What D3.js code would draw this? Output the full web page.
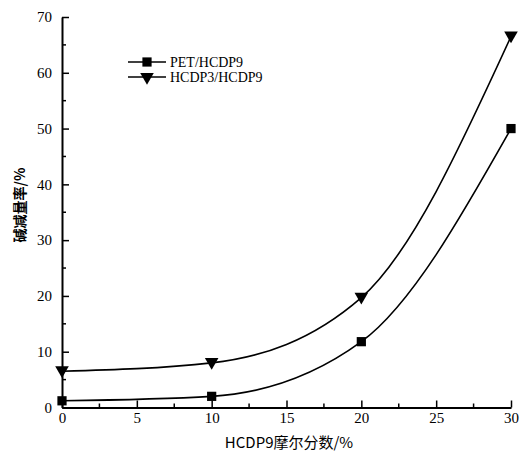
<!DOCTYPE html>
<html><head><meta charset="utf-8">
<script src="https://cdn.jsdelivr.net/npm/d3@7"></script>
<style>body{margin:0;background:#fff}svg{display:block}</style>
</head><body>
<script>
const xValues = [0, 10, 20, 30];
const petValues = [1.2, 2.0, 11.8, 50.0];
const hcdp3Values = [6.5, 8.0, 19.7, 66.5];
const seriesNames = ["PET/HCDP9", "HCDP3/HCDP9"];
const xTicks = [0, 5, 10, 15, 20, 25, 30];
const yTicks = [0, 10, 20, 30, 40, 50, 60, 70];
const xLabel = "HCDP9摩尔分数/%";
const yLabel = "碱减量率/%";

const W = 528, H = 456;
const svg = d3.select("body").append("svg").attr("width", W).attr("height", H);
const x = d3.scaleLinear().domain([0, 30]).range([62, 511]);
const y = d3.scaleLinear().domain([0, 70]).range([407.5, 17]);
const serif = "'Liberation Serif', 'DejaVu Serif', serif";
const cjk = "'Noto Sans CJK SC', sans-serif";

// axes
const xAxis = d3.axisBottom(x).tickValues(xTicks).tickSize(-7).tickPadding(5).tickSizeOuter(0);
const gx = svg.append("g").attr("transform", `translate(0,${y(0)})`).call(xAxis);
const yAxis = d3.axisLeft(y).tickValues(yTicks).tickSize(-7).tickPadding(10).tickSizeOuter(0);
const gy = svg.append("g").attr("transform", `translate(${x(0)},0)`).call(yAxis);
[gx, gy].forEach(g => {
  g.attr("font-family", serif).attr("font-size", 15);
  g.select(".domain").attr("stroke", "#000").attr("stroke-width", 2);
  g.selectAll(".tick line").attr("stroke", "#000").attr("stroke-width", 1.5);
  g.selectAll(".tick text").style("font-family", serif).style("font-size", "15px").attr("fill", "#000");
});
// minor ticks
const xMinor = d3.range(2.5, 30, 5);
svg.append("g").selectAll("line").data(xMinor).join("line")
  .attr("x1", d => x(d)).attr("x2", d => x(d)).attr("y1", y(0)).attr("y2", y(0) - 4)
  .attr("stroke", "#000").attr("stroke-width", 1.5);
const yMinor = d3.range(5, 70, 10);
svg.append("g").selectAll("line").data(yMinor).join("line")
  .attr("x1", x(0)).attr("x2", x(0) + 4).attr("y1", d => y(d)).attr("y2", d => y(d))
  .attr("stroke", "#000").attr("stroke-width", 1.5);

// labels
svg.append("text").attr("x", 289).attr("y", 448).attr("text-anchor", "middle")
  .attr("font-family", cjk).attr("font-size", 15).text(xLabel);
svg.append("text").attr("transform", "translate(25,205) rotate(-90)").attr("text-anchor", "middle")
  .attr("font-family", cjk).attr("font-size", 14).attr("font-weight", "bold").text(yLabel);

// curves
const line = d3.line().x(d => x(d[0])).y(d => y(d[1])).curve(d3.curveMonotoneX);
const s1 = xValues.map((v, i) => [v, petValues[i]]);
const s2 = xValues.map((v, i) => [v, hcdp3Values[i]]);
[s1, s2].forEach(s => svg.append("path").attr("d", line(s)).attr("fill", "none")
  .attr("stroke", "#000").attr("stroke-width", 1.6));

const sq = d3.symbol().type(d3.symbolSquare).size(85);
const tri = d3.symbol().type(d3.symbolTriangle).size(80);
svg.append("g").selectAll("path").data(s1).join("path").attr("d", sq)
  .attr("transform", d => `translate(${x(d[0])},${y(d[1])})`).attr("fill", "#000");
svg.append("g").selectAll("path").data(s2).join("path").attr("d", tri)
  .attr("transform", d => `translate(${x(d[0])},${y(d[1]) - 1}) rotate(180)`).attr("fill", "#000");

// legend
const leg = svg.append("g");
[0, 1].forEach(i => {
  const ly = 62 + i * 15;
  leg.append("line").attr("x1", 128).attr("x2", 166).attr("y1", ly).attr("y2", ly)
    .attr("stroke", "#000").attr("stroke-width", 1.6);
  leg.append("path").attr("d", i === 0 ? sq : tri)
    .attr("transform", `translate(147,${ly})` + (i === 1 ? " rotate(180)" : "")).attr("fill", "#000");
  leg.append("text").attr("x", 170).attr("y", ly + 5).attr("font-family", serif)
    .attr("font-size", 14).text(seriesNames[i]);
});
</script>
</body></html>
